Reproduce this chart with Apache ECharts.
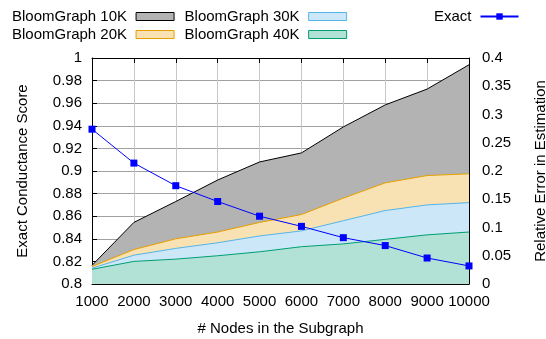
<!DOCTYPE html>
<html>
<head>
<meta charset="utf-8">
<script src="https://cdn.jsdelivr.net/npm/echarts@6/dist/echarts.min.js"></script>
<style>
  html, body { margin: 0; padding: 0; background: #fff; }
  #chart { width: 546px; height: 339px; }
</style>
</head>
<body>
<div id="chart"></div>
<script>
// Subgraph sizes (# nodes)
const nodes = [1000, 2000, 3000, 4000, 5000, 6000, 7000, 8000, 9000, 10000];
// Exact conductance score (left axis)
const exactScore = [0.937, 0.907, 0.887, 0.873, 0.860, 0.851, 0.841, 0.834, 0.823, 0.816];
// Relative error of the BloomGraph estimate per filter size (right axis)
const err10K = [0.033, 0.109, 0.146, 0.184, 0.216, 0.232, 0.278, 0.317, 0.345, 0.388];
const err20K = [0.031, 0.061, 0.080, 0.092, 0.109, 0.123, 0.152, 0.179, 0.192, 0.195];
const err30K = [0.028, 0.051, 0.063, 0.073, 0.085, 0.094, 0.112, 0.130, 0.140, 0.144];
const err40K = [0.026, 0.040, 0.044, 0.050, 0.057, 0.066, 0.071, 0.079, 0.087, 0.092];

const FONT = '"Liberation Sans", Arial, sans-serif';
const pairs = (ys) => nodes.map((x, i) => [x, ys[i]]);

const bloom = [
  { name: 'BloomGraph 10K', data: err10K, line: '#000000', fill: '#b3b3b3' },
  { name: 'BloomGraph 20K', data: err20K, line: '#e69f00', fill: '#f8e2b3' },
  { name: 'BloomGraph 30K', data: err30K, line: '#56b4e9', fill: '#cce8f8' },
  { name: 'BloomGraph 40K', data: err40K, line: '#009e73', fill: '#b2e2d5' }
];

const legendItem = (b) => ({
  name: b.name,
  icon: 'rect',
  itemStyle: { color: b.fill, borderColor: b.line, borderWidth: 1 }
});

const legendBase = {
  align: 'right',
  orient: 'horizontal',
  itemWidth: 38,
  itemHeight: 8,
  itemGap: 10,
  padding: 0,
  selectedMode: false,
  textStyle: { fontFamily: FONT, fontSize: 15, color: '#000', padding: [0, 4, 0, 0] }
};

const tickStyle = { show: true, inside: true, length: 5, lineStyle: { color: '#000', width: 1 } };
const plain = (v) => String(Math.round(v * 1000) / 1000);

const option = {
  animation: false,
  backgroundColor: '#fff',
  textStyle: { fontFamily: FONT },
  legend: [
    Object.assign({}, legendBase, { left: 12, top: 9, data: [legendItem(bloom[0]), legendItem(bloom[2])] }),
    Object.assign({}, legendBase, { left: 12, top: 27, data: [legendItem(bloom[1]), legendItem(bloom[3])] }),
    Object.assign({}, legendBase, { left: 434, top: 9, data: ['Exact'] })
  ],
  grid: { left: 92, right: 77, top: 58, bottom: 55, containLabel: false, outerBoundsMode: 'none' },
  xAxis: [
    {
      type: 'value', min: 1000, max: 10000, interval: 1000, position: 'bottom',
      name: '# Nodes in the Subgraph', nameLocation: 'middle', nameGap: 37,
      nameTextStyle: { fontSize: 15, color: '#000', fontFamily: FONT, verticalAlign: 'top' },
      axisLine: { show: true, lineStyle: { color: '#000', width: 1 } },
      axisTick: tickStyle,
      axisLabel: {
        fontSize: 15, color: '#000', margin: 10, fontFamily: FONT,
        formatter: plain, showMinLabel: true, showMaxLabel: true, hideOverlap: false
      },
      splitLine: { show: true, lineStyle: { color: '#c8c8c8', width: 1 } }
    },
    {
      type: 'value', min: 1000, max: 10000, interval: 1000, position: 'top',
      axisLine: { show: true, lineStyle: { color: '#000', width: 1 } },
      axisTick: tickStyle,
      axisLabel: { show: false },
      splitLine: { show: false }
    }
  ],
  yAxis: [
    {
      type: 'value', min: 0.8, max: 1, interval: 0.02, position: 'left',
      name: 'Exact Conductance Score', nameLocation: 'middle', nameGap: 62,
      nameTextStyle: { fontSize: 15, color: '#000', fontFamily: FONT },
      axisLine: { show: true, lineStyle: { color: '#000', width: 1 } },
      axisTick: tickStyle,
      axisLabel: { fontSize: 15, color: '#000', margin: 10, fontFamily: FONT, formatter: plain },
      splitLine: { show: true, lineStyle: { color: '#a0a0a0', width: 1 } }
    },
    {
      type: 'value', min: 0, max: 0.4, interval: 0.05, position: 'right',
      name: 'Relative Error in Estimation', nameLocation: 'middle', nameGap: 64,
      nameTextStyle: { fontSize: 15, color: '#000', fontFamily: FONT },
      axisLine: { show: true, lineStyle: { color: '#000', width: 1 } },
      axisTick: tickStyle,
      axisLabel: { fontSize: 15, color: '#000', margin: 13, fontFamily: FONT, formatter: plain },
      splitLine: { show: false }
    }
  ],
  series: bloom.map((b) => ({
    name: b.name,
    type: 'line',
    xAxisIndex: 0,
    yAxisIndex: 1,
    data: pairs(b.data),
    symbol: 'none',
    color: b.fill,
    lineStyle: { color: b.line, width: 1 },
    areaStyle: { color: b.fill, opacity: 1 },
    z: 2
  })).concat([{
    name: 'Exact',
    type: 'line',
    xAxisIndex: 0,
    yAxisIndex: 0,
    data: pairs(exactScore),
    symbol: 'rect',
    symbolSize: 7,
    color: '#0000ff',
    itemStyle: { color: '#0000ff' },
    lineStyle: { color: '#0000ff', width: 1 },
    z: 3
  }])
};

const chart = echarts.init(document.getElementById('chart'), null, { renderer: 'canvas' });
chart.setOption(option);
</script>
</body>
</html>
